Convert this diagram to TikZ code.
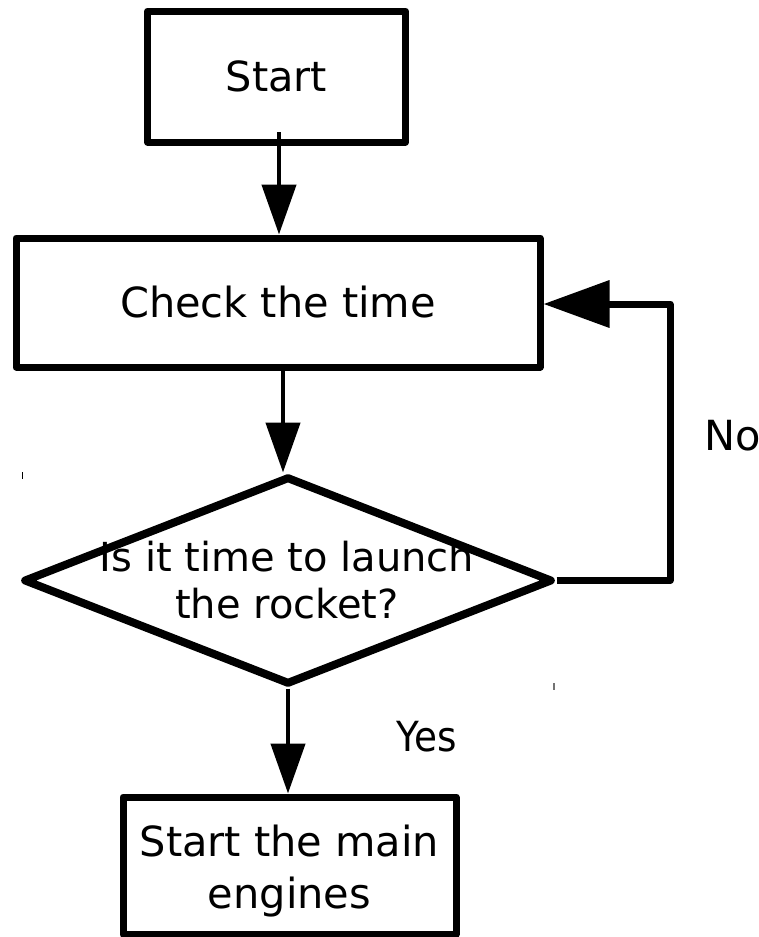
\documentclass[tikz,border=0pt]{standalone}
\usepackage{fontspec}
\setmainfont{DejaVu Sans}
\usetikzlibrary{arrows.meta,shapes.geometric}
\tikzset{
  boxnode/.style={draw, line width=7pt, line join=round, inner sep=0pt, align=center},
  dianode/.style={diamond, draw, line width=8pt, line join=round, inner sep=0pt,
                  minimum width=529pt, minimum height=208pt},
  txt/.style={inner sep=0pt, align=center},
  arr/.style={line width=4.5pt, -{Triangle[length=50pt,width=34pt]}},
  fbarr/.style={line width=7pt, line join=round, -{Triangle[length=66pt,width=46pt]}},
  lab/.style={inner sep=0pt, anchor=base west, font=\fontsize{41.5}{47}\selectfont},
  tick/.style={line width=1.2pt}
}
\begin{document}
\begin{tikzpicture}[x=1pt,y=-1pt]
\useasboundingbox (0,0) rectangle (759,937);
\node[boxnode, minimum width=258pt, minimum height=131pt,
      font=\fontsize{41.5}{47}\selectfont] (start) at (276.5,76.5) {Start};
\node[boxnode, minimum width=524pt, minimum height=129pt,
      font=\fontsize{41.5}{47}\selectfont] (check) at (278,302.5) {Check the time};
\node[dianode] (q) at (288,580.5) {};
\node[txt, font=\fontsize{40}{47}\selectfont] (qt) at (287,580) {Is it time to launch\\the rocket?};
\node[boxnode, minimum width=333pt, minimum height=137pt,
      font=\fontsize{41.5}{52}\selectfont] (eng) at (289.5,865.5) {\rule{0pt}{43pt}Start the main\\engines};
\coordinate (fbc) at (670,304);
\draw[arr] ([xshift=2.5pt,yshift=13.5pt]start.south) -- ([xshift=1pt]check.north);
\draw[arr] ([xshift=5pt]check.south) -- ([xshift=5pt]check.south |- q.north);
\draw[arr] (q.south) -- (q.south |- eng.north);
\draw[fbarr] (q.east) -| (fbc) -- (fbc -| check.east);
\node[lab] (no) at (704,450) {No};
\node[lab] (yes) at (396,751) {\scalebox{0.9}[1]{Yes}};
\draw[tick] (22.5,472) -- (22.5,479);
\draw[tick, black!55] (554,683) -- (554,690);
\end{tikzpicture}
\end{document}
